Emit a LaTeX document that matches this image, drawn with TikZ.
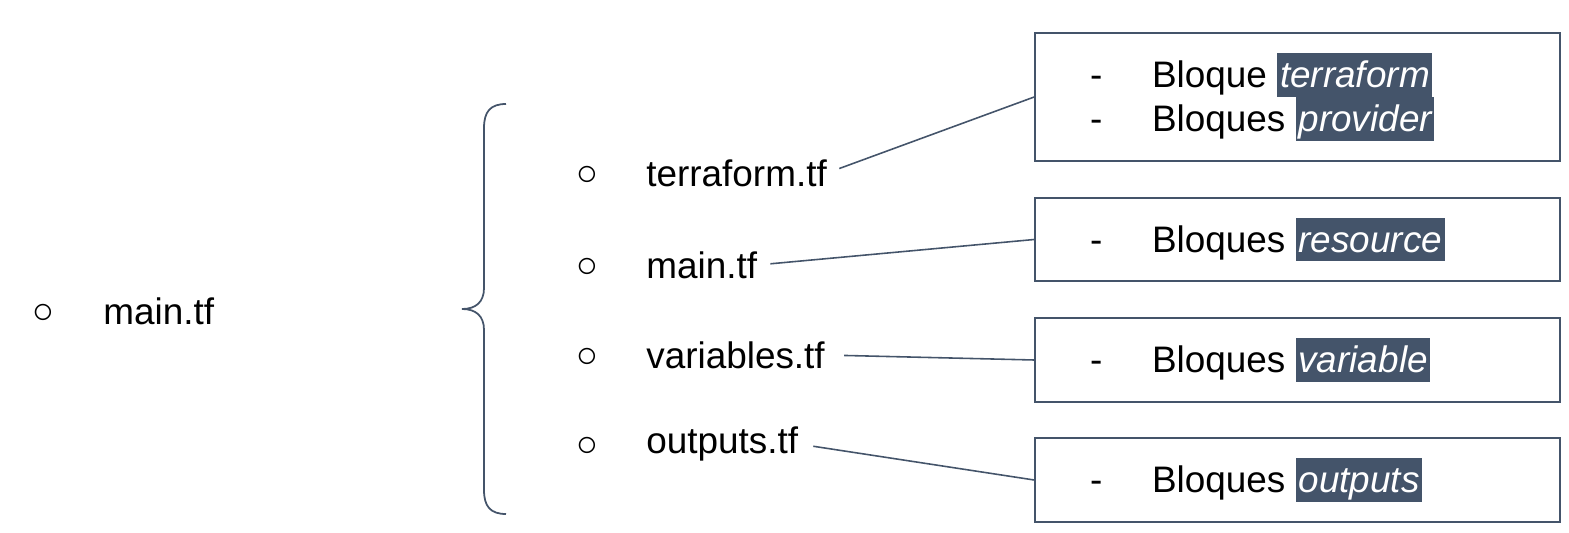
\documentclass[tikz,border=0pt]{standalone}
\usepackage{fontspec}
\setmainfont{Liberation Sans}
\definecolor{slate}{HTML}{44546A}
\newcommand{\hlword}[1]{{\setlength{\fboxsep}{0pt}\kern-1pt\colorbox{slate}{\rule[-0.24em]{0pt}{1.18em}\kern1.5pt\textcolor{white}{\itshape #1}\kern1.5pt}}}
\newcommand{\dashitem}{\makebox[1.24cm][l]{-}}

\begin{document}
\begin{tikzpicture}[x=0.02cm,y=-0.02cm,
	file_node/.style={anchor=west,inner sep=0pt,font=\fontsize{21}{25}\selectfont},
	dot_node/.style={inner sep=0pt,font=\fontsize{21}{25}\selectfont},
	block_box/.style={draw=slate,line width=1pt,minimum width=10.5cm,text width=8.3cm,align=left,inner xsep=0pt,font=\fontsize{21}{25}\selectfont},
	link/.style={draw=slate,line width=0.9pt,shorten <=0.26cm},
	brace_line/.style={draw=slate,line width=1pt}]
	\useasboundingbox (0,0) rectangle (1569,533);

	\node[dot_node] (dot_main) at (43,314) {○};
	\node[file_node] (main) at (103,311) {main.tf};

	\draw[brace_line] (506,104) .. controls (490,104) and (484,112) .. (484,128) -- (484,288)
		.. controls (484,302) and (476,309) .. (462,309) .. controls (476,309) and (484,316) .. (484,330)
		-- (484,490) .. controls (484,506) and (490,514) .. (506,514);

	\node[dot_node] (dot_terraform) at (587,176) {○};
	\node[dot_node] (dot_maintf) at (587,268) {○};
	\node[dot_node] (dot_variables) at (587,358) {○};
	\node[dot_node] (dot_outputs) at (587,447) {○};
	\node[file_node] (f_terraform) at (646,173) {terraform.tf};
	\node[file_node] (f_main) at (646,265) {main.tf};
	\node[file_node] (f_variables) at (646,355) {variables.tf};
	\node[file_node] (f_outputs) at (646,444) {outputs.tf};

	\node[block_box,minimum height=2.56cm] (box_terraform) at (1297.5,97) {\dashitem Bloque \hlword{terraform}\\\dashitem Bloques \hlword{provider}};
	\node[block_box,minimum height=1.67cm] (box_resource) at (1297.5,239.5) {\dashitem Bloques \hlword{resource}};
	\node[block_box,minimum height=1.67cm] (box_variable) at (1297.5,360) {\dashitem Bloques \hlword{variable}};
	\node[block_box,minimum height=1.67cm] (box_outputs) at (1297.5,480) {\dashitem Bloques \hlword{outputs}};

	\draw[link] (f_terraform.east) -- (box_terraform.west);
	\draw[link] (f_main.east) -- (box_resource.west);
	\draw[link,shorten <=0.38cm] (f_variables.east) -- (box_variable.west);
	\draw[link,shorten <=0.3cm] (f_outputs.east) -- (box_outputs.west);
\end{tikzpicture}
\end{document}
